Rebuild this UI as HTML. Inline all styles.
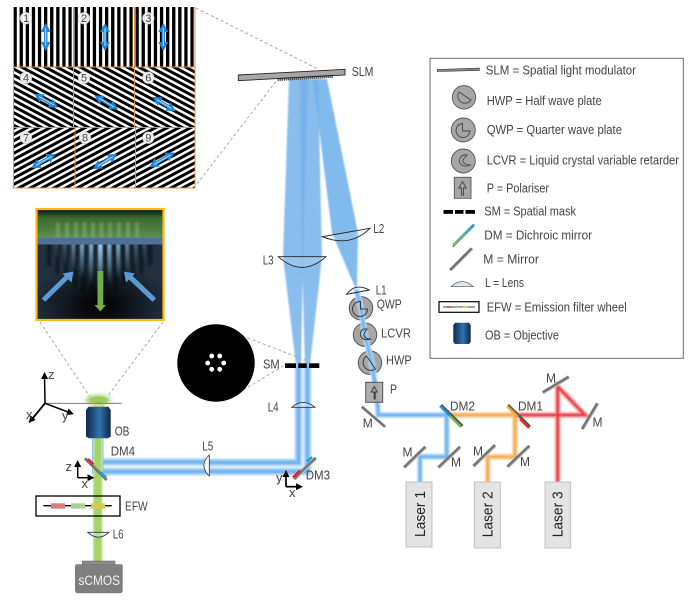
<!DOCTYPE html>
<html><head><meta charset="utf-8"><style>
html,body{margin:0;padding:0;background:#fff;width:700px;height:605px;overflow:hidden}
svg{display:block}
text{font-family:"Liberation Sans",sans-serif;font-size:13px;fill:#444}
</style></head><body>
<svg width="700" height="605" viewBox="0 0 700 605" xmlns="http://www.w3.org/2000/svg">
<defs>
<pattern id="pv" patternUnits="userSpaceOnUse" width="6.1" height="6" patternTransform="translate(13.5 0)"><rect width="6.1" height="6" fill="#fff"/><rect width="3.3" height="6" fill="#000"/></pattern>
<pattern id="pd" patternUnits="userSpaceOnUse" width="6" height="5.5" patternTransform="translate(13 67) rotate(28)"><rect width="6" height="5.5" fill="#fff"/><rect width="6" height="3" fill="#000"/></pattern>
<pattern id="pu" patternUnits="userSpaceOnUse" width="6" height="5.5" patternTransform="translate(13 127) rotate(-28)"><rect width="6" height="5.5" fill="#fff"/><rect width="6" height="3" fill="#000"/></pattern>
<marker id="da" markerUnits="userSpaceOnUse" markerWidth="9" markerHeight="10" refX="6" refY="5" orient="auto-start-reverse"><path d="M0 0L9 5L0 10Z" fill="#1d86d6"/></marker>
<marker id="ka" markerUnits="userSpaceOnUse" markerWidth="7" markerHeight="7" refX="5" refY="3.5" orient="auto"><path d="M0 0L7 3.5L0 7Z" fill="#000"/></marker>
<linearGradient id="ob" x1="0" x2="1" y1="0" y2="0"><stop offset="0" stop-color="#12284a"/><stop offset=".55" stop-color="#2f74ad"/><stop offset="1" stop-color="#12284a"/></linearGradient>
<linearGradient id="gb" x1="0" x2="0" y1="0" y2="1"><stop offset="0" stop-color="#0a1208"/><stop offset=".3" stop-color="#3d6a30"/><stop offset="1" stop-color="#5f8f4f"/></linearGradient>
<linearGradient id="st" x1="0" x2="0" y1="0" y2="1"><stop offset="0" stop-color="#9fd2f7"/><stop offset="1" stop-color="#9fd2f7" stop-opacity="0"/></linearGradient>
<linearGradient id="dmg" x1="0" x2="1" y1="1" y2="0"><stop offset="0" stop-color="#7fc04f"/><stop offset=".5" stop-color="#5fb0a0"/><stop offset="1" stop-color="#1aa0e0"/></linearGradient>
<radialGradient id="dk" cx=".5" cy=".8" r=".55"><stop offset="0" stop-color="#000"/><stop offset="1" stop-color="#000" stop-opacity="0"/></radialGradient>
<filter id="bl" x="-20%" y="-5%" width="140%" height="110%"><feGaussianBlur stdDeviation=".7"/></filter>
<filter id="bl1" x="-10%" y="-10%" width="120%" height="120%"><feGaussianBlur stdDeviation="1.1"/></filter>
<filter id="bl2" x="-60%" y="-60%" width="220%" height="220%"><feGaussianBlur stdDeviation="2"/></filter>
</defs>
<rect width="700" height="605" fill="#fff"/>

<!-- SLM pattern grid -->
<rect x="13.5" y="7" width="181.5" height="60" fill="url(#pv)"/>
<rect x="13.5" y="67" width="181.5" height="60" fill="url(#pd)"/>
<rect x="13.5" y="127" width="181.5" height="61" fill="url(#pu)"/>
<g stroke="#e9904a" stroke-width="1" fill="none">
<path d="M13.5 7V188H195V7"/><path d="M13.5 67H195M13.5 127.5H195M73.5 7V127M134.5 7V127M75 127V188M135.5 127V188"/>
</g>
<g fill="#fff" fill-opacity=".9" stroke="#999" stroke-width=".4">
<circle cx="26" cy="18.3" r="6"/><circle cx="84" cy="18.3" r="6"/><circle cx="148.3" cy="18.3" r="6"/>
<circle cx="26" cy="77.7" r="6"/><circle cx="84" cy="77.7" r="6"/><circle cx="148.3" cy="77.7" r="6"/>
<circle cx="26" cy="137.7" r="6"/><circle cx="85" cy="137.7" r="6"/><circle cx="148.3" cy="137.7" r="6"/>
</g>
<g text-anchor="middle">
<text x="26" y="22.2" style="font-size:11px">1</text><text x="84" y="22.2" style="font-size:11px">2</text><text x="148.3" y="22.2" style="font-size:11px">3</text>
<text x="26" y="81.6" style="font-size:11px">4</text><text x="84" y="81.6" style="font-size:11px">5</text><text x="148.3" y="81.6" style="font-size:11px">6</text>
<text x="26" y="141.6" style="font-size:11px">7</text><text x="85" y="141.6" style="font-size:11px">8</text><text x="148.3" y="141.6" style="font-size:11px">9</text>
</g>
<g stroke="#1d86d6" stroke-width="3.4">
<line x1="45.7" y1="26" x2="45.7" y2="48" marker-start="url(#da)" marker-end="url(#da)"/>
<line x1="105" y1="26" x2="105" y2="48" marker-start="url(#da)" marker-end="url(#da)"/>
<line x1="163.3" y1="26" x2="163.3" y2="48" marker-start="url(#da)" marker-end="url(#da)"/>
<line x1="37" y1="95.5" x2="55.5" y2="106" marker-start="url(#da)" marker-end="url(#da)"/>
<line x1="97" y1="97" x2="115.5" y2="108" marker-start="url(#da)" marker-end="url(#da)"/>
<line x1="155" y1="98.5" x2="173" y2="109.5" marker-start="url(#da)" marker-end="url(#da)"/>
<line x1="34" y1="166.5" x2="53" y2="155.5" marker-start="url(#da)" marker-end="url(#da)"/>
<line x1="95.5" y1="167.5" x2="114.5" y2="155.5" marker-start="url(#da)" marker-end="url(#da)"/>
<line x1="152" y1="165.5" x2="172" y2="154" marker-start="url(#da)" marker-end="url(#da)"/>
</g>
<g stroke="#bfe0f8" stroke-width="1">
<line x1="45.7" y1="28" x2="45.7" y2="46"/><line x1="105" y1="28" x2="105" y2="46"/><line x1="163.3" y1="28" x2="163.3" y2="46"/>
<line x1="39" y1="96.7" x2="54" y2="105"/><line x1="99" y1="98.2" x2="114" y2="107"/><line x1="157" y1="99.7" x2="171.5" y2="108.5"/>
<line x1="36" y1="165.3" x2="51.5" y2="156.4"/><line x1="97.5" y1="166.2" x2="113" y2="156.5"/><line x1="154" y1="164.4" x2="170.5" y2="155"/>
</g>

<!-- dashed zoom connectors -->
<g stroke="#a0a0a0" stroke-width=".9" stroke-dasharray="3 2.5" fill="none">
<path d="M196 8L318 69"/><path d="M197 184L277 80"/>
<path d="M40 322L90 397"/><path d="M163 322L107 397"/>
<path d="M247.3 337.7L306.7 360.7"/><path d="M243.3 390L285 365"/>
</g>

<!-- inset -->
<rect x="36.5" y="209" width="127" height="111" fill="#22303f"/>
<rect x="36.5" y="245" width="127" height="75" fill="url(#dk)"/>
<rect x="36.5" y="209" width="127" height="30" fill="url(#gb)"/>
<g fill="#a5cf85" opacity=".35" filter="url(#bl1)"><rect x="56" y="222" width="4" height="16"/><rect x="65" y="222" width="4" height="16"/><rect x="74" y="222" width="4" height="16"/><rect x="82.5" y="222" width="4" height="16"/><rect x="91" y="222" width="4" height="16"/><rect x="99.5" y="222" width="4" height="16"/><rect x="108" y="222" width="4" height="16"/><rect x="117" y="222" width="4" height="16"/><rect x="126" y="222" width="4" height="16"/><rect x="135" y="222" width="4" height="16"/></g>
<g fill="#05090d" opacity=".6" filter="url(#bl1)"><rect x="47" y="244" width="4" height="22"/><rect x="55.5" y="244" width="4" height="30"/><rect x="64" y="244" width="4" height="36"/><rect x="73" y="244" width="4" height="42"/><rect x="81.500" y="244" width="4.500" height="48"/><rect x="90.500" y="244" width="4.500" height="52"/><rect x="104.500" y="244" width="4.500" height="52"/><rect x="113.500" y="244" width="4.500" height="48"/><rect x="122" y="244" width="4" height="42"/><rect x="131" y="244" width="4" height="36"/><rect x="139.500" y="244" width="4" height="30"/><rect x="148" y="244" width="4" height="22"/></g>
<g fill="url(#st)" filter="url(#bl)">
<rect x="98" y="244" width="4.600" height="44"/>
<rect x="89" y="244" width="4.400" height="40" opacity=".8"/><rect x="107" y="244" width="4.400" height="40" opacity=".8"/>
<rect x="80" y="244" width="4.200" height="34" opacity=".75"/><rect x="116" y="244" width="4.200" height="34" opacity=".75"/>
<rect x="71.500" y="244" width="4" height="28" opacity=".55"/><rect x="125" y="244" width="4" height="28" opacity=".55"/>
<rect x="63" y="244" width="4" height="22" opacity=".3"/><rect x="133.500" y="244" width="4" height="22" opacity=".3"/>
<rect x="54.500" y="244" width="4" height="18" opacity=".2"/><rect x="142" y="244" width="4" height="18" opacity=".2"/>
</g>
<rect x="36.500" y="238" width="127" height="6.500" fill="#4f7199"/>
<g stroke="#5b9bd5" stroke-width="5" fill="none"><path d="M43.500 300L68 276"/><path d="M154.300 300L129 276"/></g>
<path d="M73.500 271.500L62.500 273.500L71.500 282.500Z" fill="#5b9bd5"/>
<path d="M124 271.500L135 273.500L126 282.500Z" fill="#5b9bd5"/>
<rect x="97.500" y="271" width="5.800" height="34" fill="#70ad47"/>
<path d="M94.500 305H106L100.300 311.500Z" fill="#70ad47"/>
<rect x="36.500" y="209" width="127" height="111" fill="none" stroke="#fdb813" stroke-width="2.200"/>

<!-- free-space beams -->
<g filter="url(#bl)">
<path d="M289 79L308 79L303 257L301 365L296 365L283 257Z" fill="#74b2ea" fill-opacity=".85"/>
<path d="M300 79L318 79L322 257L310 365L305 365L302 257Z" fill="#74b2ea" fill-opacity=".85"/>
<path d="M313 79L327 79L358 233L357 287L355 287L332 233Z" fill="#74b2ea" fill-opacity=".9"/>
</g>
<g fill="none" filter="url(#bl)">
<g stroke="#b6dafa" stroke-width="8"><path d="M298.500 365V462.500H209"/><path d="M307.500 365V471.500H209"/><path d="M209 462H102"/><path d="M209 471.500H102"/></g>
<g stroke="#74b5ee" stroke-width="4"><path d="M298.500 365V462.500H209"/><path d="M307.500 365V471.500H209"/><path d="M209 462H102"/><path d="M209 471.500H102"/></g>
</g>
<rect x="92" y="436" width="11.500" height="38" fill="#8cc1ee"/>
<rect x="93" y="436" width="9.500" height="128" fill="#c4e29a"/>
<rect x="94.500" y="436" width="6.500" height="125" fill="#a6d468"/>

<!-- wave plates -->
<g stroke="#555" stroke-width="1" fill="#a6a6a6">
<circle cx="361" cy="308.300" r="11.700"/><circle cx="365" cy="334.700" r="11.700"/><circle cx="370" cy="362.700" r="11.700"/>
</g>

<!-- laser paths -->
<g fill="none" stroke-linejoin="miter" filter="url(#bl)">
<path d="M420 482V456.700H446.700V415H378.300L376.700 393L371.700 363L365 335L361 308L356 289" stroke="#b6dafa" stroke-width="6"/>
<path d="M487.700 482V456.700H515V415H450" stroke="#fbd8a8" stroke-width="6"/>
<path d="M557.700 482V386.700L585 415H517" stroke="#f8b0b0" stroke-width="6"/>
<path d="M420 482V456.700H446.700V415H378.300L376.700 393L371.700 363L365 335L361 308L356 289" stroke="#72b5f0" stroke-width="3"/>
<path d="M487.700 482V456.700H515V415H450" stroke="#f8ad55" stroke-width="3"/>
<path d="M557.700 482V386.700L585 415H517" stroke="#ee3b48" stroke-width="3"/>
</g>
<rect x="365.700" y="382.300" width="17" height="20" fill="#a6a6a6" fill-opacity=".9" stroke="#555"/>
<g fill="none" stroke="#3c3c3c" stroke-width="1">
<path d="M360.500 301.500A7.500 7.500 0 1 0 367.500 309L360.500 309Z"/>
<path d="M367 329C361 328 358.500 334 362 338C364 340 368 340 371 339C367 339 363 337 364 334C364.500 332 366 331 367 329Z"/>
<path d="M366.500 356L375.500 369A7.500 7.500 0 0 1 366.500 356Z"/>
<path d="M374.200 399V392H371.200L374.200 386.500L377.200 392H375.200V399Z"/>
</g>

<!-- SLM -->
<path d="M238.300 75L345 69.300V75L238.300 80.700Z" fill="#a6a6a6" stroke="#222" stroke-width=".9"/>
<path d="M277.700 79.500L333 76.300" stroke="#111" stroke-width="3" stroke-dasharray="1 1" fill="none"/>
<text x="351.700" y="76" textLength="21.700" lengthAdjust="spacingAndGlyphs">SLM</text>

<!-- Lenses -->
<g fill="#dce9f6" fill-opacity=".2" stroke="#222" stroke-width=".9">
<path d="M322.300 236.700Q350 248 370 228.300Z"/>
<path d="M278.300 256.700Q302 278 326 256.700Z"/>
<path d="M346.700 294.300Q355 282.500 369.300 290Z"/>
</g>
<g fill="#dce9f6" stroke="#333" stroke-width=".8">
<path d="M291.700 407.300Q303 397.500 315 407.300Z" fill-opacity=".5"/>
<path d="M209.300 455Q198.500 465.500 209.300 476Z" fill="#f4f8fc"/>
<path d="M87.700 532.300Q98.500 542 109 532.300Z" fill-opacity=".5"/>
</g>

<!-- SM and pinhole circle -->
<circle cx="216" cy="363" r="38.700" fill="#000"/>
<g fill="#fff"><circle cx="211.700" cy="356" r="2.400"/><circle cx="219.700" cy="356" r="2.400"/><circle cx="207.700" cy="363" r="2.400"/><circle cx="223.700" cy="363" r="2.400"/><circle cx="211.700" cy="369.300" r="2.400"/><circle cx="219.700" cy="369.300" r="2.400"/></g>
<g fill="#000"><rect x="285" y="363.300" width="11" height="4.700"/><rect x="298.300" y="363.300" width="8.400" height="4.700"/><rect x="309" y="363.300" width="10.300" height="4.700"/></g>

<!-- Mirrors -->
<g fill="none">
<g stroke="#d0d0d0" stroke-width="1.800">
<path d="M362.800 407.400L386 427.400"/><path d="M405 468.300L426.300 447.700"/><path d="M439.300 468.300L461 447.700"/><path d="M474.300 467L496 446"/><path d="M508.300 467.700L530.300 446.700"/><path d="M543.500 393.500L569.500 377.900"/><path d="M583.200 429.500L598.500 403.800"/>
<path d="M295 480L316.700 458.700"/>
</g>
<g stroke="#777" stroke-width="2.700">
<path d="M361.700 406.700L385 426.700"/><path d="M404 467.300L425.300 446.700"/><path d="M438.300 467.300L460 446.700"/><path d="M473.300 466L495 445"/><path d="M507.300 466.700L529.300 445.700"/><path d="M542.700 392.300L568.700 376.700"/><path d="M582 429L597.300 403.300"/>
<path d="M294 479L315.700 457.700"/>
</g>
<!-- dichroics -->
<path d="M441 405L462.500 426" stroke="#555" stroke-width="2.700"/>
<path d="M440 406L450 416" stroke="#1d9be0" stroke-width="2.400"/><path d="M450 416L461 427" stroke="#74b84a" stroke-width="2.400"/>
<path d="M508 405L530 426.700" stroke="#555" stroke-width="2.700"/>
<path d="M507 406L518 417" stroke="#f5a623" stroke-width="2.400"/><path d="M520 419L529 428" stroke="#ee2a2a" stroke-width="2.400"/>
<path d="M85 458.300L106.700 480" stroke="#777" stroke-width="3"/>
<path d="M88 459L93.500 464.500" stroke="#e81f2f" stroke-width="2.500"/><path d="M100.500 472L106 477.500" stroke="#1d9be0" stroke-width="2.500"/>
<path d="M293 477.500L300 470.500" stroke="#e81f2f" stroke-width="2.500"/><path d="M307 461.500L312 457" stroke="#1d9be0" stroke-width="2.500"/>
</g>

<!-- Objective area -->
<ellipse cx="98.300" cy="400" rx="12.700" ry="5" fill="#9ed36a" filter="url(#bl2)"/>
<ellipse cx="98.300" cy="400" rx="9" ry="3.500" fill="#8fc65a" opacity=".7"/>
<line x1="45" y1="403.300" x2="121.700" y2="403.300" stroke="#6a6a6a" stroke-width=".9"/>
<rect x="94" y="399.300" width="9.300" height="6.700" fill="none" stroke="#e8b820" stroke-width=".8"/>
<path d="M88.500 406.700H108.500L110.700 410V436.500L108 438.300H89L86 436.500V410Z" fill="url(#ob)"/>
<g stroke="#000" stroke-width="1.500" fill="none">
<path d="M45 403.300L44.500 374" marker-end="url(#ka)"/>
<path d="M45 403.300L30 421.500" marker-end="url(#ka)" stroke-width="1.800"/>
<path d="M45 403.300L72 413.500" marker-end="url(#ka)"/>
<path d="M77.700 477.700V462" marker-end="url(#ka)"/>
<path d="M77.700 477.700H92.500" marker-end="url(#ka)"/>
<path d="M286 486.700V472" marker-end="url(#ka)" stroke-width="1.700"/>
<path d="M286 486.700H301" marker-end="url(#ka)" stroke-width="1.700"/>
</g>
<text x="48" y="379">z</text><text x="26" y="419">x</text><text x="62" y="420">y</text>
<text x="65.500" y="471">z</text><text x="81.500" y="488">x</text>
<text x="276" y="482">y</text><text x="289" y="497">x</text>

<!-- EFW -->
<rect x="36" y="496" width="84" height="20" fill="none" stroke="#000" stroke-width="1.300"/>
<line x1="43.300" y1="505.700" x2="111.700" y2="505.700" stroke="#000" stroke-width="1.300"/>
<rect x="51" y="503.300" width="14" height="5.400" fill="#d67d7d"/>
<rect x="71" y="503.300" width="14" height="5.400" fill="#aad093"/>
<rect x="91" y="503.300" width="14" height="5.400" fill="#d3ce4e"/>

<!-- sCMOS -->
<rect x="82.300" y="561" width="32.700" height="3.500" fill="#8c8c8c" stroke="#555" stroke-width=".5"/>
<path d="M75 566Q75 564.300 77 564.300H120.700Q122.700 564.300 122.700 566V590Q122.700 593.300 119.500 593.300H78Q75 593.300 75 590Z" fill="#7f7f7f"/>
<text x="78.500" y="585" textLength="41.500" lengthAdjust="spacingAndGlyphs" style="font-size:14px;fill:#f0f0f0">sCMOS</text>

<!-- Lasers -->
<g fill="#e4e4e4" stroke="#bdbdbd" stroke-width=".9">
<rect x="406" y="482" width="26" height="65"/><rect x="474.300" y="482" width="26" height="66"/><rect x="545" y="482" width="25.700" height="66"/>
</g>
<text transform="translate(425 537) rotate(-90)" textLength="46" lengthAdjust="spacingAndGlyphs" style="font-size:15px;fill:#222">Laser 1</text>
<text transform="translate(492.700 537.300) rotate(-90)" textLength="46" lengthAdjust="spacingAndGlyphs" style="font-size:15px;fill:#222">Laser 2</text>
<text transform="translate(562.700 537.300) rotate(-90)" textLength="46" lengthAdjust="spacingAndGlyphs" style="font-size:15px;fill:#222">Laser 3</text>

<!-- Labels -->
<text x="373.300" y="233" textLength="11" lengthAdjust="spacingAndGlyphs">L2</text>
<text x="262.700" y="264.500" textLength="11" lengthAdjust="spacingAndGlyphs">L3</text>
<text x="375.700" y="294.500" textLength="11" lengthAdjust="spacingAndGlyphs">L1</text>
<text x="376.700" y="308.500" textLength="25" lengthAdjust="spacingAndGlyphs">QWP</text>
<text x="381" y="337.500" textLength="30" lengthAdjust="spacingAndGlyphs">LCVR</text>
<text x="386" y="364.500" textLength="25.700" lengthAdjust="spacingAndGlyphs">HWP</text>
<text x="390" y="393.500" textLength="7" lengthAdjust="spacingAndGlyphs">P</text>
<text x="362.700" y="427.500" textLength="10" lengthAdjust="spacingAndGlyphs">M</text>
<text x="263" y="368.500" textLength="16.700" lengthAdjust="spacingAndGlyphs">SM</text>
<text x="267.700" y="411.500" textLength="11" lengthAdjust="spacingAndGlyphs">L4</text>
<text x="202.300" y="450.500" textLength="11" lengthAdjust="spacingAndGlyphs">L5</text>
<text x="305.700" y="479.500" textLength="24.300" lengthAdjust="spacingAndGlyphs">DM3</text>
<text x="114.700" y="435.500" textLength="14.700" lengthAdjust="spacingAndGlyphs">OB</text>
<text x="110.700" y="455.500" textLength="24.300" lengthAdjust="spacingAndGlyphs">DM4</text>
<text x="125" y="510.500" textLength="22.700" lengthAdjust="spacingAndGlyphs">EFW</text>
<text x="112.700" y="538.500" textLength="11" lengthAdjust="spacingAndGlyphs">L6</text>
<text x="450" y="410.500" textLength="25" lengthAdjust="spacingAndGlyphs">DM2</text>
<text x="518" y="410.500" textLength="25" lengthAdjust="spacingAndGlyphs">DM1</text>
<text x="402.500" y="456.500" textLength="10" lengthAdjust="spacingAndGlyphs">M</text>
<text x="451" y="466.500" textLength="10" lengthAdjust="spacingAndGlyphs">M</text>
<text x="473" y="455.500" textLength="10" lengthAdjust="spacingAndGlyphs">M</text>
<text x="520" y="466" textLength="10" lengthAdjust="spacingAndGlyphs">M</text>
<text x="546" y="382.500" textLength="10" lengthAdjust="spacingAndGlyphs">M</text>
<text x="592.500" y="426.500" textLength="10" lengthAdjust="spacingAndGlyphs">M</text>

<!-- Legend -->
<rect x="430" y="58.300" width="253.300" height="300" fill="#fff" stroke="#6a6a6a" stroke-width="1"/>
<path d="M437.300 69.500L479.300 68V70.500L437.300 71.500Z" fill="#888" stroke="#222" stroke-width=".6"/>
<g fill="#a6a6a6" stroke="#555" stroke-width=".9">
<circle cx="464" cy="97.300" r="11.700"/><circle cx="463.300" cy="130" r="12"/><circle cx="463.300" cy="161" r="12"/>
<rect x="454.300" y="177.300" width="16.700" height="21"/>
</g>
<g fill="none" stroke="#444" stroke-width=".9">
<path d="M459 92L471 100A7 7 0 0 1 459 92Z"/>
<path d="M462.500 123.500A7 7 0 1 0 470 131L462.500 131Z"/>
<path d="M467 155C461 154 457.500 160 460.500 164C462.500 166.500 467 166.500 471 165C466 165 462 163 463 160C463.500 158 466 157 467 155Z"/>
<path d="M461.500 195V188H458.800L462.500 181.500L466.200 188H463.500V195Z"/>
</g>
<g fill="#000"><rect x="443.500" y="210" width="9.500" height="3.800"/><rect x="455" y="210" width="8.500" height="3.800"/><rect x="465.500" y="210" width="9.500" height="3.800"/></g>
<path d="M453.300 246L474.300 225" stroke="#666" stroke-width="1.500" fill="none" transform="translate(-.6 1)"/>
<path d="M453.300 245L474 224.500" stroke="url(#dmg)" stroke-width="2.600" fill="none"/>
<path d="M451 271L473 249" stroke="#d0d0d0" stroke-width="1.800" fill="none"/>
<path d="M450 270L471.700 248.300" stroke="#707070" stroke-width="2.500" fill="none"/>
<path d="M451 286.700Q462 276.500 473.300 286.700Z" fill="#dce9f6" stroke="#555" stroke-width=".7"/>
<rect x="439" y="301.700" width="40" height="10.600" fill="#fff" stroke="#000" stroke-width="1.200"/>
<line x1="443" y1="307" x2="475" y2="307" stroke="#444" stroke-width="1"/>
<rect x="447" y="306" width="5" height="2" fill="#d66"/><rect x="455" y="306" width="5" height="2" fill="#8c6"/><rect x="463" y="306" width="5" height="2" fill="#dc5"/>
<path d="M455 322.700H469L470.700 325V342L469 344H455L453.300 342V325Z" fill="url(#ob)"/>
<text x="485.700" y="74.500" textLength="150.300" lengthAdjust="spacingAndGlyphs">SLM = Spatial light modulator</text>
<text x="486.700" y="105" textLength="115" lengthAdjust="spacingAndGlyphs">HWP = Half wave plate</text>
<text x="486.700" y="134" textLength="135.300" lengthAdjust="spacingAndGlyphs">QWP = Quarter wave plate</text>
<text x="486.700" y="164.500" textLength="192.300" lengthAdjust="spacingAndGlyphs">LCVR = Liquid crystal variable retarder</text>
<text x="486.700" y="192.500" textLength="62.300" lengthAdjust="spacingAndGlyphs">P = Polariser</text>
<text x="484.300" y="215.500" textLength="91.700" lengthAdjust="spacingAndGlyphs">SM = Spatial mask</text>
<text x="484.300" y="239.500" textLength="107.700" lengthAdjust="spacingAndGlyphs">DM = Dichroic mirror</text>
<text x="483.300" y="263.500" textLength="55.700" lengthAdjust="spacingAndGlyphs">M = Mirror</text>
<text x="485" y="287" textLength="39" lengthAdjust="spacingAndGlyphs">L = Lens</text>
<text x="486.700" y="311.500" textLength="140" lengthAdjust="spacingAndGlyphs">EFW = Emission filter wheel</text>
<text x="485" y="339.500" textLength="74" lengthAdjust="spacingAndGlyphs">OB = Objective</text>
</svg>
</body></html>
